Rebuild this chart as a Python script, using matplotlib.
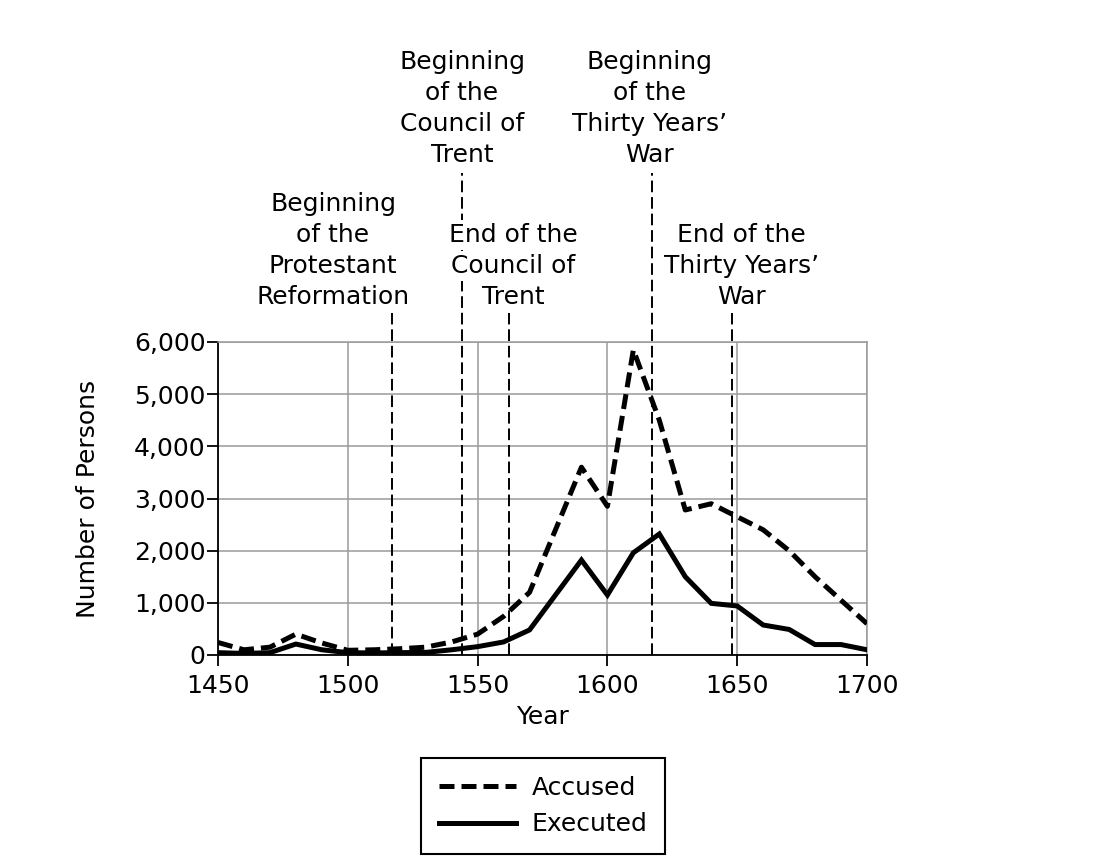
import matplotlib
matplotlib.use("Agg")
import matplotlib.pyplot as plt

plt.rcParams['font.family'] = ['DejaVu Sans']

years = list(range(1450, 1701, 10))
accused = [240, 100, 150, 400, 230, 90, 100, 120, 150, 250, 400, 740, 1200,
           2400, 3600, 2850, 5850, 4500, 2780, 2900, 2650, 2400, 2000, 1500,
           1050, 600]
executed = [45, 30, 45, 210, 100, 45, 40, 45, 50, 100, 160, 250, 480,
            1150, 1820, 1150, 1960, 2320, 1500, 990, 940, 575, 490, 200,
            200, 100]

# where the event lines are drawn on the chart
event_years = [1517, 1544, 1562, 1617, 1648]
event_tops = [6556, 9240, 6556, 9240, 6556]
event_labels = [
    ["Beginning", "of the", "Protestant", "Reformation"],
    ["Beginning", "of the", "Council of", "Trent"],
    ["End of the", "Council of", "Trent"],
    ["Beginning", "of the", "Thirty Years\u2019", "War"],
    ["End of the", "Thirty Years\u2019", "War"],
]
label_x = [1494.3, 1544, 1563.6, 1616.4, 1651.8]
label_top = [8645, 11367, 8051, 11367, 8051]
line_step = 594

FS = 18

fig = plt.figure(figsize=(10.98, 8.59), dpi=100)
ax = fig.add_axes([218 / 1098, 1 - 655 / 859, 649 / 1098, 313 / 859])

ax.set_xlim(1450, 1700)
ax.set_ylim(0, 6000)
ax.set_xticks(range(1450, 1701, 50))
ax.set_yticks(range(0, 6001, 1000))
ax.set_yticklabels([f"{v:,}" for v in range(0, 6001, 1000)])
ax.grid(True, color='#9a9a9a', lw=1.1)
ax.set_axisbelow(True)
for s in ['top', 'right']:
    ax.spines[s].set_color('#9a9a9a')
    ax.spines[s].set_linewidth(1.1)
for s in ['left', 'bottom']:
    ax.spines[s].set_color('black')
    ax.spines[s].set_linewidth(1.3)
ax.tick_params(axis='both', labelsize=FS, length=8, width=1.3, color='black')
ax.tick_params(axis='y', pad=1)
ax.tick_params(axis='x', pad=6)

ax.plot(years, accused, color='black', lw=3.6, ls=(0, (3, 1.4)),
        label='Accused', zorder=4)
ax.plot(years, executed, color='black', lw=3.6, label='Executed',
        solid_joinstyle='miter', zorder=4)

for ex, top in zip(event_years, event_tops):
    ax.plot([ex, ex], [0, top], color='black', lw=1.4, ls=(0, (6, 2.5)),
            clip_on=False, zorder=3)

for lines, lx, ly in zip(event_labels, label_x, label_top):
    for i, t in enumerate(lines):
        ax.text(lx, ly - i * line_step, t, ha='center', va='center',
                fontsize=FS, clip_on=False, zorder=6,
                bbox=dict(facecolor='white', edgecolor='none', pad=2.0))

ax.set_xlabel('Year', fontsize=FS)
ax.set_ylabel('Number of Persons', fontsize=FS)
ax.xaxis.set_label_coords(0.5, (655 - 717) / 313)
ax.xaxis.label.set_va('center')
ax.yaxis.set_label_coords((88 - 218) / 649, 0.5)
ax.yaxis.label.set_va('center')

leg = fig.legend(loc='center', bbox_to_anchor=(543 / 1098, 1 - 806 / 859),
                 fontsize=FS, frameon=True, fancybox=False, edgecolor='black',
                 framealpha=1, handlelength=3.1, handletextpad=0.6,
                 labelspacing=0.5, borderpad=0.72, borderaxespad=0)
leg.get_frame().set_linewidth(1.5)

fig.savefig('out.png', dpi=100)
